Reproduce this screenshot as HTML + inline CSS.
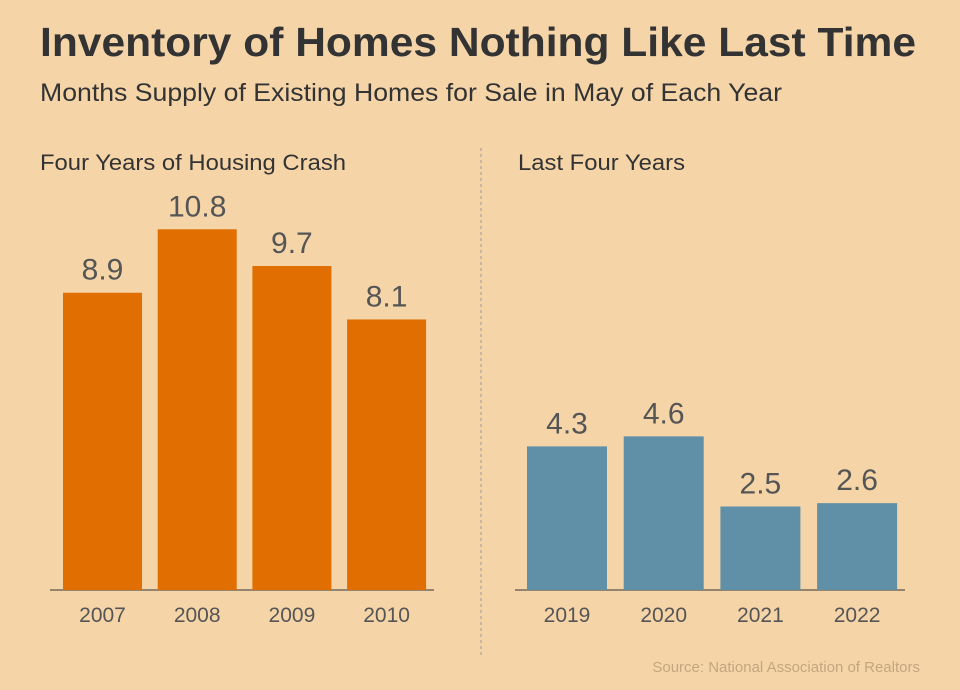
<!DOCTYPE html>
<html><head><meta charset="utf-8"><style>
body{margin:0;background:#f5d5a8;}
svg{display:block;font-family:"Liberation Sans",sans-serif;}
</style></head><body>
<svg id="c" width="960" height="690">
<rect width="960" height="690" fill="#f5d5a8"/>
<text x="40" y="56" font-size="41" font-weight="bold" fill="#333" textLength="876" lengthAdjust="spacingAndGlyphs">Inventory of Homes Nothing Like Last Time</text>
<text x="40" y="101" font-size="25" fill="#333" textLength="742" lengthAdjust="spacingAndGlyphs">Months Supply of Existing Homes for Sale in May of Each Year</text>
<text x="40" y="170" font-size="22" fill="#333" textLength="306" lengthAdjust="spacingAndGlyphs">Four Years of Housing Crash</text>
<text x="518" y="170" font-size="22" fill="#333" textLength="167" lengthAdjust="spacingAndGlyphs">Last Four Years</text>
<line x1="481" y1="148" x2="481" y2="655" stroke="#999" stroke-dasharray="3,3"/>
<text x="920" y="672" font-size="15" text-anchor="end" fill="#c4a57e">Source: National Association of Realtors</text>
</svg>
<script>
const crashYears=["2007","2008","2009","2010"];
const crashValues=[8.9,10.8,9.7,8.1];
const recentYears=["2019","2020","2021","2022"];
const recentValues=[4.3,4.6,2.5,2.6];
const svg=document.getElementById('c');
const NS="http://www.w3.org/2000/svg";
const base=590, pxPerUnit=33.4;
function yScale(v){return base-v*pxPerUnit;}
function mk(tag,attrs){const e=document.createElementNS(NS,tag);for(const k in attrs)e.setAttribute(k,attrs[k]);svg.appendChild(e);return e;}
function panel(cats,vals,x0,step,w,color,axisX1,axisX2,prefix){
  const ax=mk('line',{x1:axisX1,x2:axisX2,y1:base,y2:base,stroke:'#333','stroke-width':1});
  
  
  cats.forEach((c,i)=>{
    const x=x0+i*step, y=yScale(vals[i]);
    const r=mk('rect',{x:x,y:y,width:w,height:base-y,fill:color});
    
    
    const t=mk('text',{x:x+w/2,y:y-13,'font-size':30,'text-anchor':'middle',fill:'#555'});
    t.textContent=vals[i];
    
    
    const l=mk('text',{x:x+w/2,y:622,'font-size':21,'text-anchor':'middle',fill:'#555'});
    l.textContent=c;
    
    
  });
}
panel(crashYears,crashValues,63,94.7,79,'#e06e00',50,434,'left');
panel(recentYears,recentValues,527,96.7,80,'#5f90a8',515,905,'right');
</script>
</body></html>
